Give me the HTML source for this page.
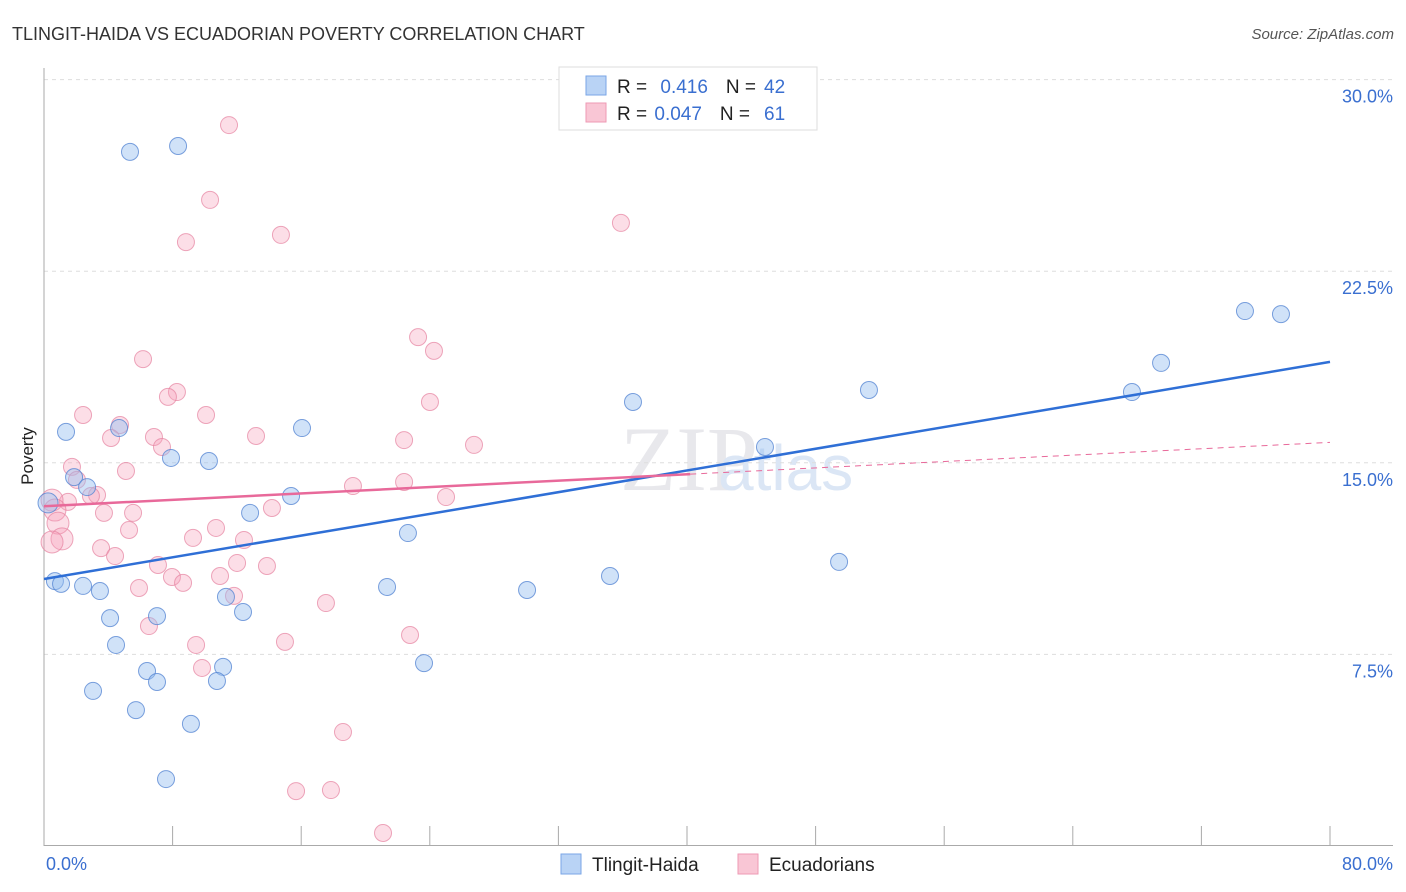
<!DOCTYPE html>
<html><head><meta charset="utf-8"><style>
body{margin:0;background:#fff;font-family:"Liberation Sans",sans-serif}
svg{display:block}
</style></head><body>
<svg id="c" width="1406" height="892" viewBox="0 0 1406 892">
<text x="12" y="40" font-size="18" fill="#333">TLINGIT-HAIDA VS ECUADORIAN POVERTY CORRELATION CHART</text>
<text x="1394" y="39" font-size="15" fill="#555" font-style="italic" text-anchor="end">Source: ZipAtlas.com</text>
<text x="33" y="456" font-size="17" fill="#222" text-anchor="middle" transform="rotate(-90 33 456)">Poverty</text>
<text x="620" y="490" font-size="92" fill="#e8e8ec" font-family="Liberation Serif,serif">ZIP</text>
<text x="718" y="490" font-size="64" fill="#dbe6f5">atlas</text>
<g id="grid"></g><g id="axes"></g><g id="pts"></g><g id="lines"></g>
<g>
<rect x="559" y="67" width="258" height="63" fill="#fff" stroke="#ddd"/>
<rect x="586" y="76" width="20" height="19" fill="#b9d3f5" stroke="#7aa6e6"/>
<rect x="586" y="103" width="20" height="19" fill="#f9c6d5" stroke="#ee9ab4"/>
<text x="617" y="93" font-size="19" fill="#222">R = <tspan fill="#3a6fd0" dx="8">0.416</tspan><tspan fill="#222" dx="18">N =</tspan><tspan fill="#3a6fd0" dx="8">42</tspan></text>
<text x="617" y="120" font-size="19" fill="#222">R = <tspan fill="#3a6fd0" dx="2">0.047</tspan><tspan fill="#222" dx="18">N =</tspan><tspan fill="#3a6fd0" dx="14">61</tspan></text>
</g>
<g>
<rect x="561" y="854" width="20" height="20" fill="#b9d3f5" stroke="#7aa6e6"/>
<text x="592" y="871" font-size="19" fill="#222">Tlingit-Haida</text>
<rect x="738" y="854" width="20" height="20" fill="#f9c6d5" stroke="#ee9ab4"/>
<text x="769" y="871" font-size="19" fill="#222">Ecuadorians</text>
</g>
</svg>
<script>
const yTicks=[7.5,15,22.5,30];
const yTickLabels=["7.5%","15.0%","22.5%","30.0%"];
const xTickLabels=["0.0%","80.0%"];
const blueX=[5.35,8.34,1.37,4.67,1.87,2.68,7.90,10.26,16.05,15.37,12.82,22.64,0.68,1.06,2.43,3.48,4.11,7.03,11.32,12.38,4.48,6.41,7.03,11.14,10.76,3.05,5.72,9.14,7.59,21.34,30.05,35.21,23.64,36.64,44.85,51.32,49.46,67.68,69.49,74.71,76.95,0.25];
const blueY=[27.17,27.40,16.21,16.36,14.44,14.05,15.19,15.07,16.36,13.70,13.04,12.25,10.37,10.26,10.18,9.98,8.92,9.00,9.75,9.16,7.87,6.85,6.42,7.01,6.46,6.07,5.32,4.78,2.62,10.14,10.02,10.57,7.16,17.38,15.62,17.85,11.12,17.77,18.91,20.94,20.82,13.43];
const pinkX=[11.51,10.33,8.83,14.74,35.89,23.27,24.26,6.16,8.27,7.71,24.01,2.43,10.08,4.73,4.17,6.84,13.19,22.40,26.75,7.34,1.74,5.10,2.05,3.30,2.92,1.49,0.50,0.68,3.73,5.54,14.18,22.40,19.22,25.01,0.87,5.29,10.70,1.12,0.50,9.27,12.44,3.55,4.42,12.01,13.87,7.09,7.96,10.95,8.65,5.91,11.82,17.54,6.53,22.77,9.46,14.99,9.83,18.60,15.68,17.85,21.09];
const pinkY=[28.22,25.29,23.64,23.92,24.39,19.92,19.38,19.06,17.77,17.58,17.38,16.87,16.87,16.48,15.97,16.01,16.05,15.89,15.70,15.62,14.84,14.68,14.33,13.74,13.70,13.47,13.54,13.15,13.04,13.04,13.23,14.25,14.09,13.66,12.64,12.37,12.45,12.02,11.90,12.06,11.98,11.66,11.35,11.08,10.96,11.00,10.53,10.57,10.30,10.10,9.79,9.51,8.61,8.26,7.87,7.99,6.97,4.46,2.15,2.19,0.51];
const blueTrend=[10.45,18.95];
const pinkTrend=[13.3,15.8];
const pinkSolidEnd=40.2;
const NS="http://www.w3.org/2000/svg";
const X=v=>44+v/80*1286, Y=v=>846-v/7.5*191.6;
function mk(t,a,p){const e=document.createElementNS(NS,t);for(const k in a)e.setAttribute(k,a[k]);p.appendChild(e);return e;}
const grid=document.getElementById('grid'),axes=document.getElementById('axes'),pts=document.getElementById('pts'),lines=document.getElementById('lines');
yTicks.forEach((t,i)=>{
 const g=mk('line',{x1:44,x2:1393,y1:Y(t),y2:Y(t),stroke:'#ddd','stroke-dasharray':'4 4'},grid);
 
 
 const l=mk('text',{x:1393,y:Y(t)+23,'font-size':18,fill:'#3a6fd0','text-anchor':'end'},axes);l.textContent=yTickLabels[i];
 
 
});
const ax=mk('line',{x1:44,x2:44,y1:68,y2:846,stroke:'#aaa'},axes);


const bx=mk('line',{x1:44,x2:1393,y1:845.5,y2:845.5,stroke:'#aaa'},axes);


for(let i=1;i<=10;i++){const t=mk('line',{x1:X(i*8),x2:X(i*8),y1:826,y2:846,stroke:'#aaa'},axes);
 
 }
[[0,'start',46],[80,'end',1393]].forEach((d,i)=>{const t=mk('text',{x:d[2],y:870,'font-size':18,fill:'#3a6fd0','text-anchor':d[1]},axes);t.textContent=xTickLabels[i];
 
 });
pinkX.forEach((x,i)=>{const c=mk('circle',{cx:X(x),cy:Y(pinkY[i]),r:x<1.2?11:8.5,fill:'rgba(245,160,185,0.35)',stroke:'rgba(230,130,160,0.7)','stroke-width':1},pts);
 
 });
blueX.forEach((x,i)=>{const c=mk('circle',{cx:X(x),cy:Y(blueY[i]),r:x<0.5?10:8.5,fill:'rgba(150,190,240,0.45)',stroke:'rgba(80,130,210,0.75)','stroke-width':1},pts);
 
 });
const bl=mk('line',{x1:X(0),y1:Y(blueTrend[0]),x2:X(80),y2:Y(blueTrend[1]),stroke:'#2f6fd6','stroke-width':2.5},lines);


const pm=pinkTrend[0]+(pinkTrend[1]-pinkTrend[0])*pinkSolidEnd/80;
const pl=mk('line',{x1:X(0),y1:Y(pinkTrend[0]),x2:X(pinkSolidEnd),y2:Y(pm),stroke:'#e8699a','stroke-width':2.5},lines);


const pd=mk('line',{x1:X(pinkSolidEnd),y1:Y(pm),x2:X(80),y2:Y(pinkTrend[1]),stroke:'#e8699a','stroke-width':1,'stroke-dasharray':'6 5'},lines);


</script>
</body></html>
